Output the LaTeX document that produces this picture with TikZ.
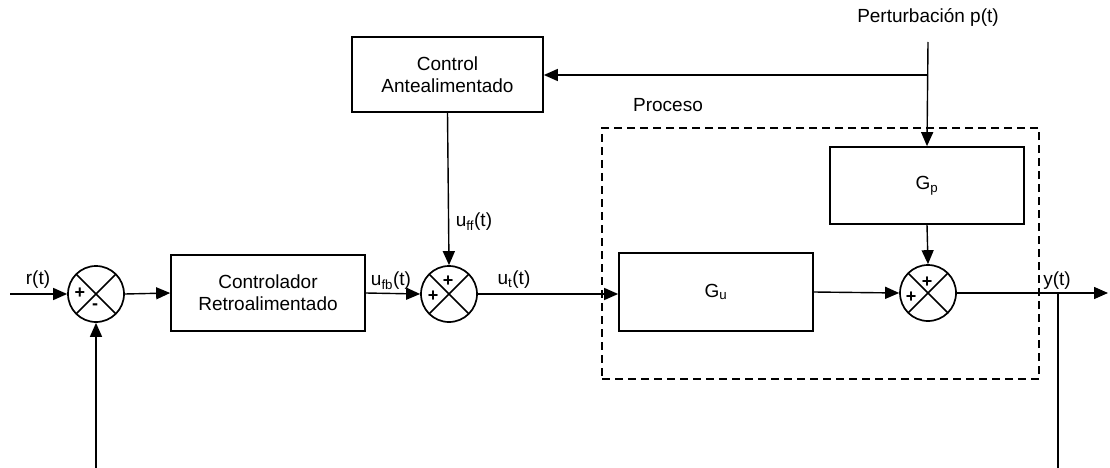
\documentclass[tikz,border=0pt]{standalone}
\usepackage{fontspec}
\setmainfont{Liberation Sans}
\usetikzlibrary{arrows.meta,calc}
\begin{document}
\begin{tikzpicture}[x=1pt,y=-1pt,
  every node/.style={font=\fontsize{19}{22}\selectfont},
  blockbox/.style={draw,line width=1.7pt,align=center,inner sep=0pt},
  sumnode/.style={draw,circle,line width=1.7pt,minimum size=56pt,inner sep=0pt,
    path picture={\draw[line width=1.5pt] (path picture bounding box.north west) -- (path picture bounding box.south east)
      (path picture bounding box.north east) -- (path picture bounding box.south west);}},
  signlbl/.style={font=\fontsize{18}{18}\selectfont\bfseries,inner sep=0pt},
  sig/.style={line width=1.4pt,-{Triangle[length=14pt,width=12pt]}},
  plain/.style={line width=1.4pt},
  procbox/.style={draw,line width=1.6pt,dash pattern=on 8pt off 5pt}
]
\useasboundingbox (0,0) rectangle (1110,468);

% blocks
\node[blockbox,minimum width=194pt,minimum height=76pt] (fb) at (268,293) {Controlador\\Retroalimentado};
\node[blockbox,minimum width=191pt,minimum height=75pt] (ff) at (447.5,74.5) {Control\\Antealimentado};
\node[blockbox,minimum width=194pt,minimum height=78pt] (gu) at (716,292) {G\textsubscript{u}};
\node[blockbox,minimum width=194pt,minimum height=77pt] (gp) at (927,185.5) {G\textsubscript{p}};

% summing junctions
\node[sumnode] (s1) at (96,294) {};
\node[sumnode] (s2) at (449,294) {};
\node[sumnode] (s3) at (928,293) {};

\node[signlbl] (s1a) at ($(s1)+(-16,-1)$) {+};
\node[signlbl] (s1b) at ($(s1)+(-1,13)$) {-};
\node[signlbl] (s2a) at ($(s2)+(-1,-13)$) {+};
\node[signlbl] (s2b) at ($(s2)+(-16,2)$) {+};
\node[signlbl] (s3a) at ($(s3)+(-1,-11)$) {+};
\node[signlbl] (s3b) at ($(s3)+(-17,4)$) {+};

% process frame
\node[procbox,minimum width=437pt,minimum height=251pt,inner sep=0pt] (proc) at (820.5,253.5) {};
\node (proclbl) at (668,105) {Proceso};

% labels
\node (rl) at (38,280) {r(t)};
\node (ufbl) at (391,281) {u\textsubscript{fb}(t)};
\node (uffl) at (474,222) {u\textsubscript{ff}(t)};
\node (utl) at (514,280) {u\textsubscript{t}(t)};
\node (yl) at (1057,281) {y(t)};
\node (pl) at (928,17) {Perturbación p(t)};

% coordinates
\coordinate (rin) at (10,294);
\coordinate (pin) at (928,42);
\coordinate (pbr) at (928,75);
\coordinate (yout) at (1108,293);
\coordinate (ybr) at (1058,293);
\coordinate (ybot) at (1058,468);
\coordinate (fbot) at (96,468);

% connectors
\draw[sig] (rin) -- (s1.west);
\draw[sig] (s1.east) -- (fb.west);
\draw[sig] (fb.east) -- (s2.west);
\draw[sig] (ff.south) -- (s2.north);
\draw[sig] (s2.east) -- (s2.east -| gu.west);
\draw[sig] (gu.east) -- (s3.west);
\draw[sig] (gp.south) -- (s3.north);
\draw[sig] (pin) -- (gp.north);
\draw[sig] (pbr) -- (pbr -| ff.east);
\draw[sig] (s3.east) -- (yout);
\draw[plain] (ybr) -- (ybot);
\draw[sig] (fbot) -- (s1.south);
\end{tikzpicture}
\end{document}
